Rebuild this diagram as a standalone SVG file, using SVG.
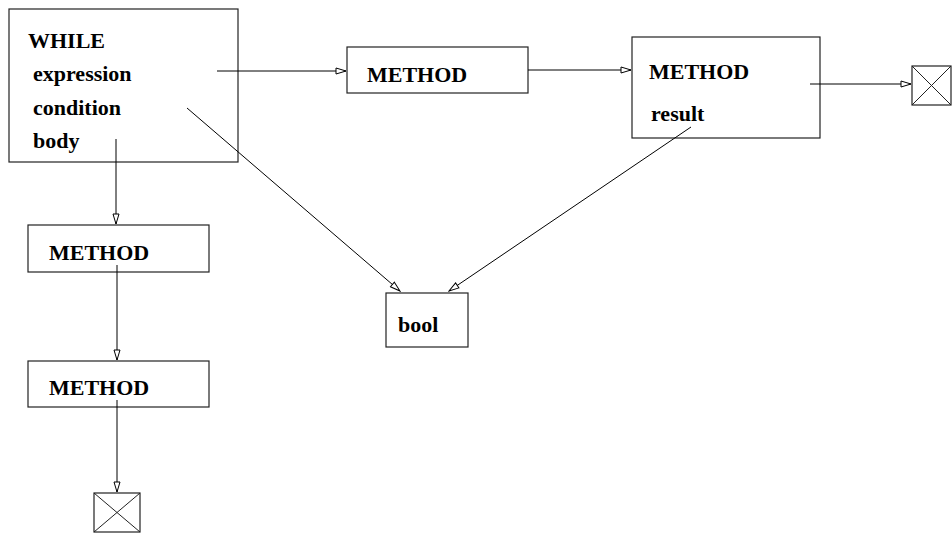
<svg xmlns="http://www.w3.org/2000/svg" width="952" height="533" viewBox="0 0 952 533">
<style>
.box{fill:#fff;stroke:#222;stroke-width:1.2}
.t{font-family:"Liberation Serif",serif;font-weight:bold;font-size:22px;fill:#000}
.c{stroke:#000;stroke-width:1;fill:none;marker-end:url(#ah)}
.x{stroke:#222;stroke-width:1;fill:none}
</style>
<defs>
<marker id="ah" markerWidth="12" markerHeight="8" refX="11" refY="4" orient="auto" markerUnits="userSpaceOnUse">
<path d="M1,1 L11,4 L1,7 Z" fill="#fff" stroke="#000" stroke-width="1"/>
</marker>
</defs>
<rect width="952" height="533" fill="#fff"/>
<g id="while">
<rect class="box" x="9" y="9" width="229" height="153"/>
<text class="t" x="28" y="48">WHILE</text>
<text class="t" x="33" y="81">expression</text>
<text class="t" x="33" y="115">condition</text>
<text class="t" x="33" y="148">body</text>
</g>
<g id="method1">
<rect class="box" x="347" y="47" width="181" height="46"/>
<text class="t" x="367" y="82">METHOD</text>
</g>
<g id="method2">
<rect class="box" x="632" y="37" width="188" height="101"/>
<text class="t" x="649" y="79">METHOD</text>
<text class="t" x="651" y="121">result</text>
</g>
<g id="null1">
<rect class="box" x="912" y="66" width="39" height="39"/>
<line class="x" x1="912" y1="66" x2="951" y2="105"/>
<line class="x" x1="951" y1="66" x2="912" y2="105"/>
</g>
<g id="bool">
<rect class="box" x="386" y="293" width="82" height="54"/>
<text class="t" x="398" y="332">bool</text>
</g>
<g id="method3">
<rect class="box" x="28" y="225" width="181" height="47"/>
<text class="t" x="49" y="260">METHOD</text>
</g>
<g id="method4">
<rect class="box" x="28" y="361" width="181" height="46"/>
<text class="t" x="49" y="395">METHOD</text>
</g>
<g id="null2">
<rect class="box" x="94" y="493" width="46" height="39"/>
<line class="x" x1="94" y1="493" x2="140" y2="532"/>
<line class="x" x1="140" y1="493" x2="94" y2="532"/>
</g>
<g id="connectors">
<line class="c" x1="217" y1="71" x2="346" y2="71"/>
<line class="c" x1="528" y1="70" x2="631" y2="70"/>
<line class="c" x1="810" y1="84" x2="911" y2="84"/>
<line class="c" x1="187" y1="108" x2="400" y2="291"/>
<line class="c" x1="691" y1="127" x2="449" y2="291"/>
<line class="c" x1="116" y1="139" x2="116" y2="224"/>
<line class="c" x1="117" y1="265" x2="117" y2="360"/>
<line class="c" x1="117" y1="400" x2="117" y2="492"/>
</g>
</svg>
